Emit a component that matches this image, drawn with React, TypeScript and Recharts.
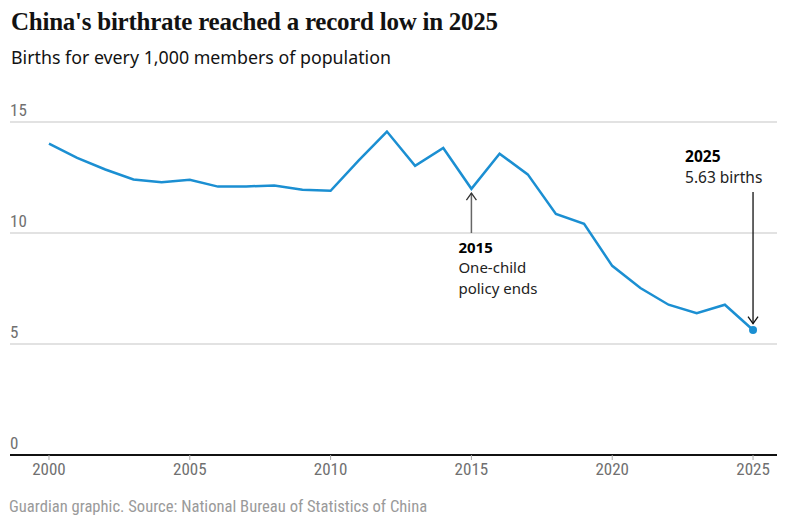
import React from "react";
import { CartesianGrid, Line, LineChart, ReferenceLine, XAxis, YAxis } from "recharts";

const years = [
  2000, 2001, 2002, 2003, 2004, 2005, 2006, 2007, 2008, 2009, 2010, 2011, 2012,
  2013, 2014, 2015, 2016, 2017, 2018, 2019, 2020, 2021, 2022, 2023, 2024, 2025,
];
const birthRates = [
  14.03, 13.38, 12.86, 12.41, 12.29, 12.4, 12.09, 12.1, 12.14, 11.95, 11.9, 13.27, 14.57,
  13.03, 13.83, 11.99, 13.57, 12.64, 10.86, 10.41, 8.52, 7.52, 6.77, 6.39, 6.77, 5.63,
];
const xTicks = [2000, 2005, 2010, 2015, 2020, 2025];
const yTicks = [0, 5, 10, 15];

const title = "China's birthrate reached a record low in 2025";
const subtitle = "Births for every 1,000 members of population";
const source = "Guardian graphic. Source: National Bureau of Statistics of China";

const data = years.map((year, i) => ({ year, rate: birthRates[i] }));

const BLUE = "#1b8fd2";
const SANS = "'Noto Sans', sans-serif";
const NARROW = "'Liberation Sans Narrow', 'Roboto Condensed', sans-serif";

function arrowHead(x: number, y: number, dir: number, color: string) {
  // dir: -1 points up, 1 points down
  return (
    <path
      d={`M${x - 5},${y - dir * 7} L${x},${y} L${x + 5},${y - dir * 7}`}
      fill="none"
      stroke={color}
      strokeWidth={1.3}
    />
  );
}

function PolicyArrow(props: any) {
  const { x1, y1, x2, y2 } = props;
  return (
    <g>
      <line x1={x1} y1={y1} x2={x2} y2={y2} stroke="#666" strokeWidth={1.5} />
      {arrowHead(x2, y2, -1, "#333")}
      <text x={x1 - 13} y={y1 + 20} fontFamily={SANS} fontSize={15} fontWeight={700} fill="#000">
        2015
      </text>
      <text x={x1 - 13} y={y1 + 40} fontFamily={SANS} fontSize={15} fill="#222">
        One-child
      </text>
      <text x={x1 - 13} y={y1 + 61} fontFamily={SANS} fontSize={15} fill="#222">
        policy ends
      </text>
    </g>
  );
}

function LowArrow(props: any) {
  const { x1, y1, x2, y2 } = props;
  return (
    <g>
      <line x1={x1} y1={y1} x2={x2} y2={y2} stroke="#111" strokeWidth={1.3} />
      {arrowHead(x2, y2, 1, "#111")}
      <text x={x1 - 68} y={y1 - 30} fontFamily={SANS} fontSize={15.5} fontWeight={700} fill="#000">
        2025
      </text>
      <text x={x1 - 68} y={y1 - 9} fontFamily={SANS} fontSize={15.5} fill="#222">
        5.63 births
      </text>
    </g>
  );
}

function YTick(props: any) {
  const { y, payload } = props;
  return (
    <text x={10} y={y - 6} fontFamily={NARROW} fontSize={17} fill="#707070">
      {payload.value}
    </text>
  );
}

function LastDot(props: any) {
  const { cx, cy, index } = props;
  if (index !== data.length - 1) return <g key={index} />;
  return <circle key={index} cx={cx} cy={cy} r={4} fill={BLUE} stroke="none" />;
}

export default function App() {
  return (
    <div
      style={{
        position: "absolute",
        left: 0,
        top: 0,
        width: 791,
        height: 524,
        background: "#fff",
        overflow: "hidden",
      }}
    >
      <LineChart
        width={791}
        height={524}
        data={data}
        margin={{ top: 122, right: 14, left: 9, bottom: 39 }}
      >
        <CartesianGrid horizontal vertical={false} stroke="#d9d9d9" strokeWidth={1.3} />
        <XAxis
          dataKey="year"
          type="number"
          domain={[1998.616, 2025.851]}
          ticks={xTicks}
          allowDataOverflow
          height={30}
          axisLine={{ stroke: "#111", strokeWidth: 2 }}
          tickLine={{ stroke: "#aaa" }}
          tickSize={5}
          tickMargin={3}
          tick={{ fill: "#707070", fontSize: 17, fontFamily: NARROW }}
        />
        <YAxis
          domain={[0, 15]}
          ticks={yTicks}
          width={1}
          axisLine={false}
          tickLine={false}
          tick={(p: any) => <YTick {...p} />}
          allowDataOverflow
        />
        <ReferenceLine
          segment={[
            { x: 2015, y: 10.0 },
            { x: 2015, y: 11.8 },
          ]}
          shape={<PolicyArrow />}
        />
        <ReferenceLine
          segment={[
            { x: 2025, y: 11.85 },
            { x: 2025, y: 5.92 },
          ]}
          shape={<LowArrow />}
        />
        <Line
          type="linear"
          dataKey="rate"
          stroke={BLUE}
          strokeWidth={2.5}
          dot={<LastDot />}
          activeDot={false}
          isAnimationActive={false}
        />
      </LineChart>
      <div
        style={{
          position: "absolute",
          left: 11,
          top: 8,
          fontFamily: "'Liberation Serif', serif",
          fontWeight: 700,
          fontSize: 25,
          color: "#121212",
          whiteSpace: "nowrap",
          letterSpacing: -0.25,
        }}
      >
        {title}
      </div>
      <div
        style={{
          position: "absolute",
          left: 11,
          top: 45,
          fontFamily: SANS,
          fontSize: 17.8,
          color: "#121212",
          whiteSpace: "nowrap",
        }}
      >
        {subtitle}
      </div>
      <div
        style={{
          position: "absolute",
          left: 9,
          top: 497,
          fontFamily: NARROW,
          fontSize: 16.6,
          color: "#9a9a9a",
          whiteSpace: "nowrap",
        }}
      >
        {source}
      </div>
    </div>
  );
}
